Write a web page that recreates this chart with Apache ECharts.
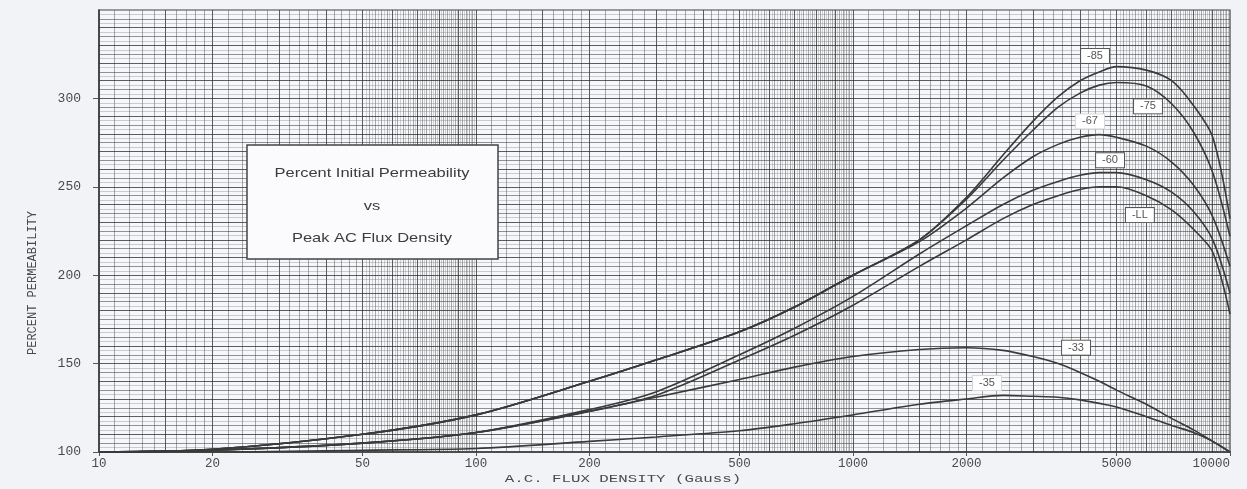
<!DOCTYPE html>
<html>
<head>
<meta charset="utf-8">
<script src="https://cdn.jsdelivr.net/npm/echarts@6/dist/echarts.min.js"></script>
<style>
html,body{margin:0;padding:0;background:#f1f3f7;}
#chart{width:1247px;height:489px;}
</style>
</head>
<body>
<div id="chart"></div>
<script>
// ---- data ----
const xTickLabels = [10, 20, 50, 100, 200, 500, 1000, 2000, 5000, 10000];
const yTickLabels = [100, 150, 200, 250, 300];
const fluxX = [10, 20, 50, 100, 200, 300, 500, 700, 1000, 1500, 2000, 2500, 3000, 3500, 4000, 4500, 5000, 6000, 7000, 8000, 9000, 10000];
const s85 = [100, 101.5, 110, 121, 140, 152, 168, 182, 200, 220, 244, 268, 287, 301, 310, 315, 318, 316, 310, 296, 278, 232];
const s75 = [100, 101.5, 110, 121, 140, 152, 168, 182, 200, 220, 243, 265, 282, 295, 303, 307.5, 309, 307, 297, 281, 258, 222];
const s67 = [100, 101.5, 110, 121, 140, 152, 168, 182, 200, 219, 238, 255, 267, 274, 278, 279.5, 278, 273, 264, 251, 233, 205];
const s60 = [100, 101, 105, 111, 124, 134, 155, 170, 188, 212, 228, 240, 248, 253, 256.5, 258, 258, 254, 247, 236, 220, 190];
const sLL = [100, 101, 105, 111, 123, 132, 152, 166, 183, 205, 220, 232, 240, 245, 248.5, 250, 250, 245, 237, 226, 213, 178];
const s33 = [100, 101, 105, 111, 123, 131, 141, 148, 154, 158, 159, 157.5, 154, 150, 145, 140, 135, 127, 119, 112.5, 106, 100];
const s35 = [100, 100, 101, 102, 106, 108.5, 112, 116, 121, 127, 130, 132, 131.5, 131, 129.5, 127.5, 125.5, 120, 115, 111, 106, 100];
const seriesNames = ['-85', '-75', '-67', '-60', '-LL', '-33', '-35'];
const seriesValues = [s85, s75, s67, s60, sLL, s33, s35];
// label anchor points (x in Gauss, y in %)
const labelX = [4385, 6060, 4253, 4806, 5768, 3905, 2267];
const labelY = [324, 295.5, 287, 265, 234, 159, 139];
const labelFaint = [false, false, true, false, false, false, true];

// ---- graph paper lines ----
const vLines = [];
[1, 10, 100].forEach(function (d) {
  for (let m = 10; m < 100; m += (m < 20 ? 1 : 2)) {
    const v = m * d;
    if (v <= 10) continue;
    const major = (m % 10 === 0) || m === 15 || m === 25;
    vLines.push({ xAxis: v, lineStyle: { color: major ? 'rgba(40,40,40,0.75)' : 'rgba(70,70,70,0.45)', width: 1, type: 'solid' } });
  }
  for (let m = 51; m < 100; m += 2) {
    vLines.push({ xAxis: m * d, lineStyle: { color: 'rgba(90,90,90,0.25)', width: 1, type: 'solid' } });
  }
});
const hLines = [];
for (let y = 102.5; y < 350; y += 2.5) {
  const major = (y % 10 === 0);
  const mid = (y % 5 === 0);
  hLines.push({ yAxis: y, lineStyle: { color: major ? 'rgba(40,40,40,0.75)' : (mid ? 'rgba(60,60,60,0.55)' : 'rgba(90,90,90,0.28)'), width: 1, type: 'solid' } });
}

const chart = echarts.init(document.getElementById('chart'));
const series = [{
  type: 'line', data: [], silent: true, z: 1,
  markLine: { silent: true, symbol: 'none', label: { show: false }, animation: false, data: vLines.concat(hLines) }
}];
seriesNames.forEach(function (name, i) {
  series.push({
    name: name, type: 'line', smooth: 0.3, symbol: 'none', z: 5,
    lineStyle: { color: '#3a3a3a', width: 1.6 },
    data: fluxX.map(function (x, k) { return [x, seriesValues[i][k]]; }),
    markPoint: {
      symbol: 'rect', symbolSize: 1, itemStyle: { color: 'transparent' },
      data: [{ coord: [labelX[i], labelY[i]] }],
      label: {
        show: true, position: 'inside', formatter: name,
        fontFamily: 'Liberation Sans, Arial, sans-serif', fontSize: 11, color: '#555',
        backgroundColor: '#ffffff', borderColor: labelFaint[i] ? '#d8d8d8' : '#555', borderWidth: 1,
        padding: [2, 6, 1, 6]
      }
    }
  });
});

chart.setOption({
  animation: false,
  backgroundColor: '#f1f3f7',
  grid: { left: 99, right: 17, top: 10, bottom: 37, containLabel: false, outerBoundsMode: 'none', show: true, borderColor: '#444', borderWidth: 1.2, backgroundColor: '#f6f7fa' },
  xAxis: {
    type: 'log', min: 10, max: 10000, logBase: 10,
    axisLine: { show: true, lineStyle: { color: '#333', width: 1.5 } },
    splitLine: { show: false },
    axisTick: { show: true, customValues: xTickLabels, length: 4, inside: false, lineStyle: { color: '#555' } },
    axisLabel: { customValues: xTickLabels, alignMaxLabel: 'right', formatter: function (v) { return String(Math.round(v)); },
      fontFamily: 'Liberation Mono, DejaVu Sans Mono, monospace', fontSize: 12.5, color: '#4a4a4a', margin: 5 }
  },
  yAxis: {
    type: 'value', min: 100, max: 350, interval: 50,
    axisLine: { show: true, lineStyle: { color: '#333', width: 1.5 } },
    splitLine: { show: false },
    axisTick: { show: true, customValues: yTickLabels, length: 6, lineStyle: { color: '#555' } },
    axisLabel: { customValues: yTickLabels, formatter: function (v) { return String(v); },
      fontFamily: 'Liberation Mono, DejaVu Sans Mono, monospace', fontSize: 13, color: '#4a4a4a', margin: 18 }
  },
  graphic: [
    { type: 'rect', z: 50, shape: { x: 247, y: 145, width: 251, height: 114 }, style: { fill: '#fbfbfd', stroke: '#444', lineWidth: 1.5 } },
    { type: 'text', z: 51, x: 372, y: 173, scaleX: 1.22, style: { text: 'Percent Initial Permeability', fill: '#3c3c3c', font: '13.5px "Liberation Sans", Arial, sans-serif', textAlign: 'center', textVerticalAlign: 'middle' } },
    { type: 'text', z: 51, x: 372, y: 206, scaleX: 1.22, style: { text: 'vs', fill: '#3c3c3c', font: '13.5px "Liberation Sans", Arial, sans-serif', textAlign: 'center', textVerticalAlign: 'middle' } },
    { type: 'text', z: 51, x: 372, y: 238, scaleX: 1.22, style: { text: 'Peak AC Flux Density', fill: '#3c3c3c', font: '13.5px "Liberation Sans", Arial, sans-serif', textAlign: 'center', textVerticalAlign: 'middle' } },
    { type: 'text', z: 51, x: 623, y: 479, scaleX: 1.5, style: { text: 'A.C. FLUX DENSITY (Gauss)', fill: '#4a4a4a', font: '10.5px "Liberation Mono", monospace', textAlign: 'center', textVerticalAlign: 'middle' } },
    { type: 'text', z: 51, x: 33, y: 283, rotation: Math.PI / 2, style: { text: 'PERCENT PERMEABILITY', fill: '#4a4a4a', font: '12px "Liberation Mono", monospace', textAlign: 'center', textVerticalAlign: 'middle' } }
  ],
  series: series
});
</script>
</body>
</html>
